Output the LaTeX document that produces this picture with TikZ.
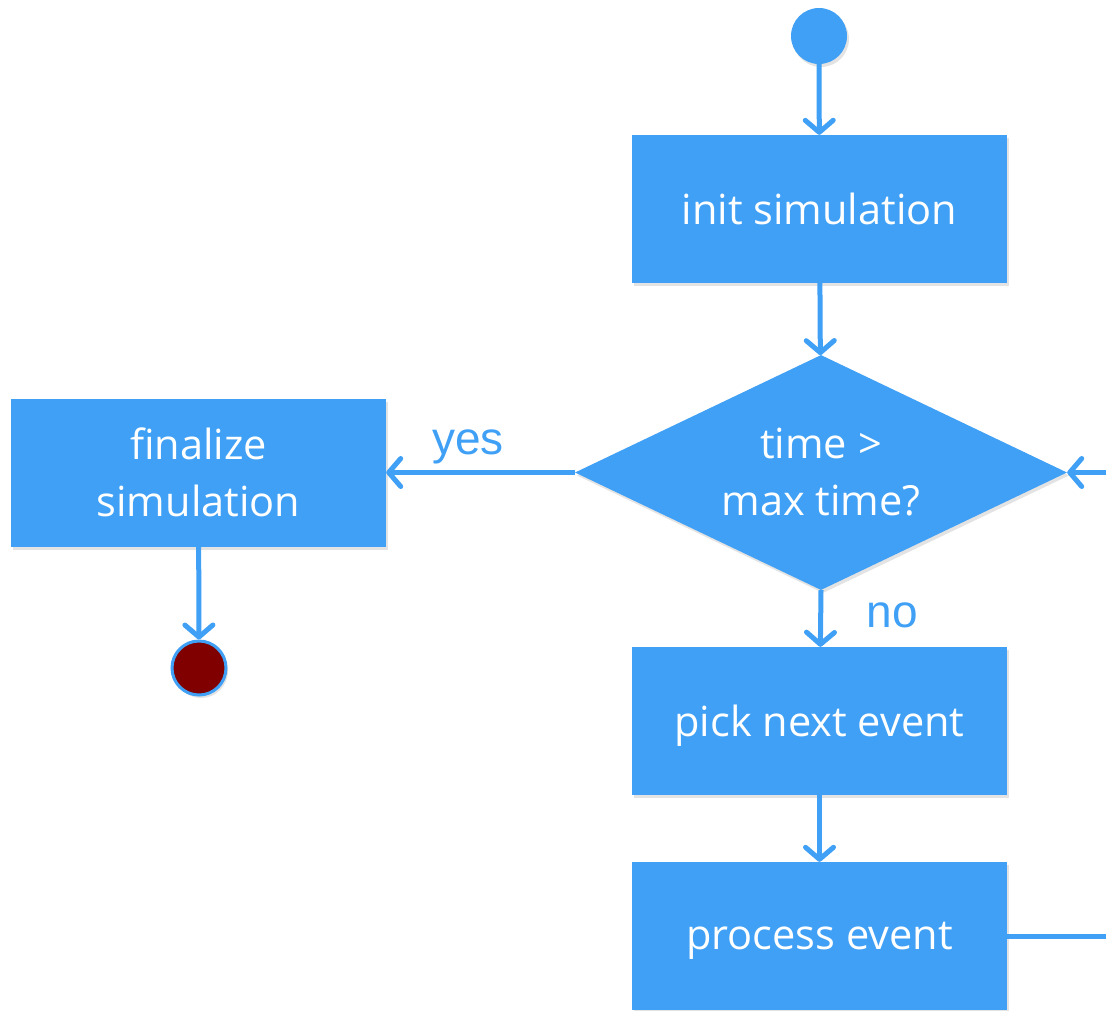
\documentclass[tikz,border=0pt]{standalone}
\usepackage{fontspec}
\setmainfont{Open Sans}
\newfontfamily\labelfont{Liberation Sans}
\usetikzlibrary{arrows.meta,shapes.geometric,shadows}
\definecolor{flowblue}{HTML}{3FA0F5}
\definecolor{endred}{HTML}{800000}
\begin{document}
\begin{tikzpicture}[x=1pt,y=1pt,
  softshadow/.style={drop shadow={opacity=0.22,shadow xshift=2pt,shadow yshift=-3pt}},
  boxnode/.style={rectangle,fill=flowblue,draw=none,text=white,minimum width=375pt,minimum height=148pt,inner sep=0pt,align=center,font=\fontsize{41.5}{57}\selectfont,softshadow},
  decnode/.style={diamond,fill=flowblue,draw=none,text=white,minimum width=492pt,minimum height=235pt,inner sep=0pt,aspect=2.09,align=center,font=\fontsize{41.5}{57}\selectfont,softshadow},
  startnode/.style={circle,fill=flowblue,draw=none,minimum size=56pt,inner sep=0pt,softshadow},
  endnode/.style={circle,fill=endred,draw=flowblue,line width=3pt,minimum size=54pt,inner sep=0pt,softshadow},
  conn/.style={draw=flowblue,line width=5pt,-{Straight Barb[length=12pt,width=28pt,round]}},
  lbl/.style={text=flowblue,font=\labelfont\fontsize{46}{50}\selectfont,inner sep=0pt}
]
\useasboundingbox (0,0) rectangle (1106,-1010);
\clip (0,0) rectangle (1106,-1010);
\node[startnode] (start) at (819,-36) {};
\node[boxnode,text depth=0pt] (init) at (819.5,-209) {init simulation};
\node[decnode] (dec) at (821,-472.5) {time >\\max time?};
\node[boxnode] (final) at (198.5,-472.5) {finalize\\simulation};
\node[endnode] (stop) at (199,-668) {};
\node[boxnode,text depth=0pt] (pick) at (819.5,-721) {pick next event};
\node[boxnode,text depth=0pt] (proc) at (819.5,-936) {process event};
\coordinate (loop) at (1135,-700);

\draw[conn] (start) -- (init);
\draw[conn] (init) -- (dec);
\draw[conn] (dec.west) -- (final.east);
\draw[conn] (final) -- (stop);
\draw[conn] (dec.south) -- (pick);
\draw[conn] (pick) -- (proc);
\draw[conn] (proc.east) -| (loop) |- (dec.east);

\node[lbl] (yes) at (468,-447) {yes};
\node[lbl] (no) at (892,-615) {no};
\end{tikzpicture}
\end{document}
